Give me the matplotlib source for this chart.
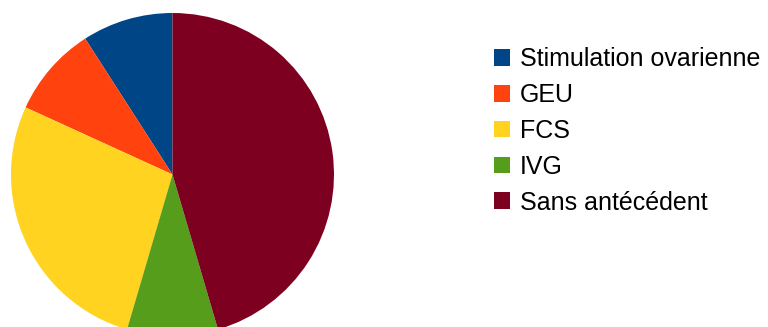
import matplotlib
matplotlib.use('Agg')
import matplotlib.pyplot as plt

categories = ['Stimulation ovarienne', 'GEU', 'FCS', 'IVG', 'Sans antécédent']
counts = [1, 1, 3, 1, 5]
colors = ['#004586', '#ff420e', '#ffd320', '#579d1c', '#7e0021']

plt.rcParams['font.family'] = ['Liberation Sans', 'DejaVu Sans']

W, H = 768, 327
fig = plt.figure(figsize=(W / 100, H / 100), dpi=100)
ax = fig.add_axes([0, 0, 1, 1])

# work in pixel units so the pie can sit exactly where we want it
wedges, _ = ax.pie(counts, colors=colors, startangle=90, counterclock=True,
                   center=(172.5, H - 174.5), radius=161.5,
                   wedgeprops=dict(linewidth=0))
ax.set_xlim(0, W)
ax.set_ylim(0, H)
ax.set_aspect('auto')
ax.axis('off')

leg = ax.legend(wedges, categories, loc='upper left',
                bbox_to_anchor=(494 / W, 1 - 47.5 / H),
                bbox_transform=fig.transFigure,
                frameon=False, fontsize=18, borderpad=0, borderaxespad=0,
                handlelength=0.64, handleheight=0.64, handletextpad=0.38,
                labelspacing=0.47)

fig.savefig('out.png', dpi=100)
